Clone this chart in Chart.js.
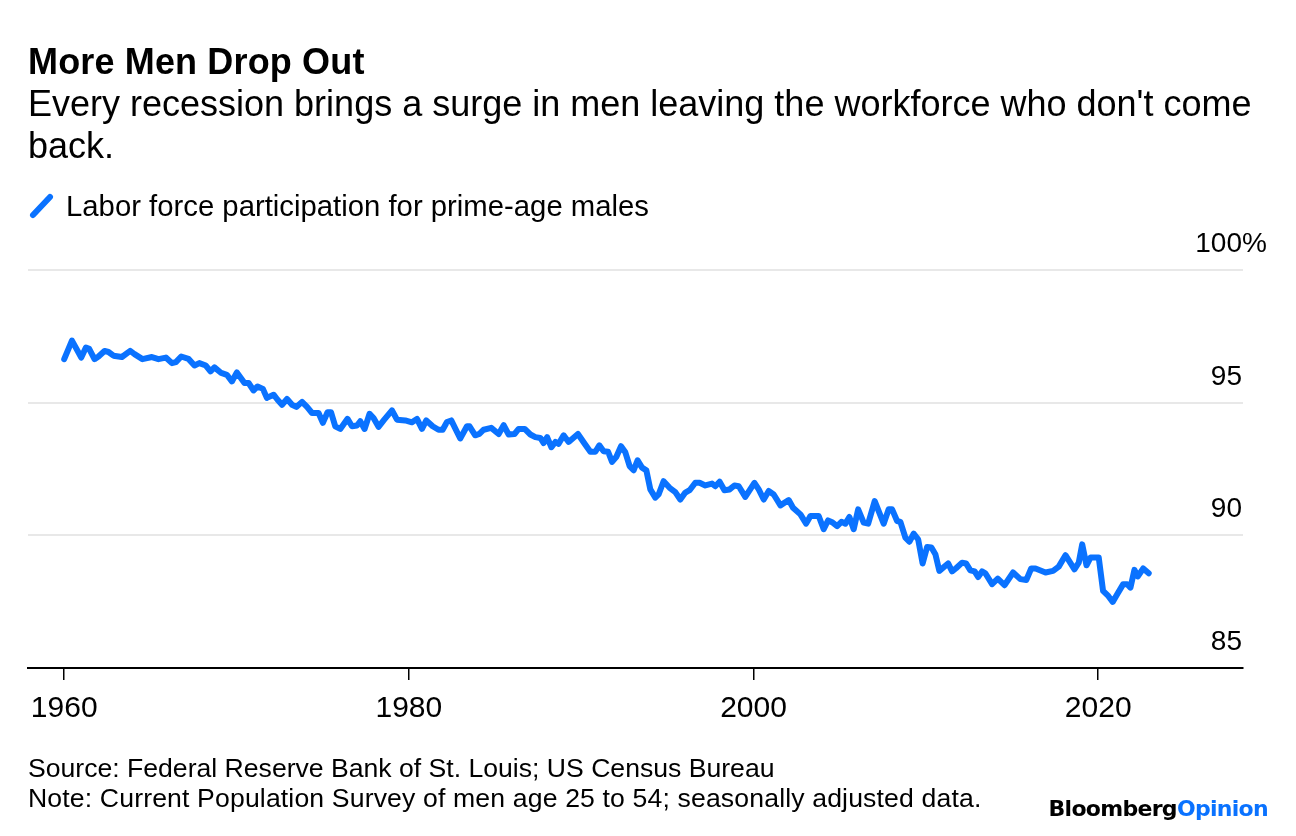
<!DOCTYPE html>
<html><head><meta charset="utf-8">
<script src="https://cdn.jsdelivr.net/npm/chart.js@4.4.0/dist/chart.umd.min.js"></script>
<style>
html,body{margin:0;padding:0;background:#fff;}
body{width:1296px;height:836px;position:relative;overflow:hidden;font-family:"Liberation Sans",Arial,Helvetica,sans-serif;color:#000;}
#c{position:absolute;left:0;top:0;}
.t{position:absolute;white-space:nowrap;}
</style></head><body>
<canvas id="c" width="1296" height="836"></canvas>
<div class="t" style="left:28px;top:44px;font-size:36px;line-height:36px;font-weight:bold;letter-spacing:0.15px;">More Men Drop Out</div>
<div class="t" style="left:28px;top:83px;font-size:36px;line-height:42px;">Every recession brings a surge in men leaving the workforce who don't come<br>back.</div>
<svg class="t" style="left:0;top:0;" width="70" height="240"><line x1="33" y1="215" x2="50" y2="197" stroke="#0a72ff" stroke-width="6" stroke-linecap="round"/></svg>
<div class="t" style="left:66px;top:191px;font-size:29.3px;line-height:29.3px;">Labor force participation for prime-age males</div>
<div class="t" style="left:28px;top:755px;font-size:26.6px;line-height:26.6px;">Source: Federal Reserve Bank of St. Louis; US Census Bureau</div>
<div class="t" style="left:28px;top:785px;font-size:26.6px;line-height:26.6px;letter-spacing:0.15px;">Note: Current Population Survey of men age 25 to 54; seasonally adjusted data.</div>
<div class="t" style="right:28px;top:798px;font-size:22px;line-height:22px;font-family:'DejaVu Sans',sans-serif;font-weight:bold;letter-spacing:-0.7px;"><span style="color:#000">Bloomberg</span><span style="color:#0a72ff">Opinion</span></div>
<script>
// Data (year, percent)
const years = [
 1960.00,1960.45,1960.99,1961.26,1961.45,1961.76,1961.99,1962.34,1962.57,1962.86,
 1963.35,1963.83,1964.08,1964.54,1965.09,1965.47,1965.90,1966.25,1966.48,1966.79,
 1967.21,1967.56,1967.84,1968.22,1968.49,1968.72,1969.11,1969.44,1969.73,1970.02,
 1970.46,1970.70,1970.99,1971.22,1971.53,1971.76,1972.15,1972.38,1972.64,1972.93,
 1973.22,1973.47,1973.80,1974.09,1974.38,1974.76,1975.01,1975.28,1975.48,1975.73,
 1976.02,1976.44,1976.70,1976.99,1977.18,1977.43,1977.72,1977.95,1978.24,1978.57,
 1979.02,1979.31,1979.79,1980.18,1980.47,1980.76,1981.01,1981.38,1981.72,1981.96,
 1982.21,1982.46,1982.98,1983.37,1983.52,1983.85,1984.09,1984.34,1984.78,1985.21,
 1985.50,1985.79,1986.13,1986.37,1986.72,1987.05,1987.34,1987.63,1987.82,1988.02,
 1988.27,1988.50,1988.69,1988.98,1989.27,1989.81,1990.20,1990.53,1990.82,1991.05,
 1991.30,1991.56,1991.79,1992.04,1992.31,1992.56,1992.81,1993.04,1993.27,1993.53,
 1993.78,1994.01,1994.30,1994.49,1994.78,1995.13,1995.46,1995.75,1996.04,1996.29,
 1996.62,1996.87,1997.20,1997.59,1997.78,1998.03,1998.31,1998.61,1998.89,1999.14,
 1999.52,2000.05,2000.30,2000.59,2000.88,2001.17,2001.56,2002.04,2002.29,2002.72,
 2003.05,2003.30,2003.78,2004.07,2004.32,2004.59,2004.85,2005.10,2005.33,2005.56,
 2005.81,2006.07,2006.39,2006.65,2007.03,2007.55,2007.84,2008.04,2008.33,2008.52,
 2008.81,2009.04,2009.29,2009.55,2009.81,2010.07,2010.32,2010.55,2010.78,2011.29,
 2011.52,2011.75,2012.10,2012.33,2012.58,2012.83,2013.03,2013.26,2013.45,2013.84,
 2014.17,2014.56,2015.06,2015.48,2015.83,2016.11,2016.36,2016.94,2017.38,2017.71,
 2018.10,2018.62,2018.87,2019.07,2019.32,2019.55,2020.03,2020.28,2020.55,2020.84,
 2021.10,2021.45,2021.68,2021.87,2022.10,2022.29,2022.61,2022.93
];
const values = [
 96.64,97.34,96.70,97.08,97.03,96.64,96.74,96.95,96.91,96.77,
 96.72,96.95,96.83,96.64,96.72,96.64,96.70,96.49,96.53,96.74,
 96.65,96.40,96.49,96.40,96.18,96.33,96.12,96.05,95.80,96.14,
 95.74,95.74,95.46,95.61,95.52,95.18,95.30,95.11,94.92,95.14,
 94.92,94.84,95.03,94.84,94.61,94.61,94.24,94.64,94.64,94.11,
 94.01,94.39,94.11,94.14,94.30,94.01,94.58,94.42,94.09,94.36,
 94.71,94.36,94.33,94.26,94.39,94.01,94.33,94.11,93.98,93.98,
 94.27,94.33,93.65,94.11,94.11,93.77,93.82,93.98,94.05,93.82,
 94.15,93.80,93.82,94.01,94.01,93.80,93.70,93.67,93.48,93.70,
 93.32,93.52,93.45,93.77,93.52,93.82,93.45,93.15,93.15,93.39,
 93.17,93.15,92.77,92.96,93.36,93.13,92.61,92.45,92.83,92.55,
 92.45,91.73,91.42,91.54,92.04,91.79,91.63,91.35,91.61,91.70,
 91.98,91.98,91.88,91.95,91.85,92.02,91.70,91.73,91.88,91.85,
 91.45,91.98,91.73,91.35,91.67,91.54,91.13,91.33,91.04,90.79,
 90.44,90.73,90.73,90.23,90.56,90.48,90.35,90.51,90.44,90.69,
 90.23,90.98,90.48,90.44,91.29,90.44,90.98,90.98,90.54,90.51,
 89.91,89.76,90.06,89.85,88.94,89.56,89.54,89.29,88.66,88.94,
 88.64,88.76,88.97,88.94,88.68,88.64,88.43,88.64,88.57,88.16,
 88.37,88.12,88.60,88.35,88.32,88.75,88.75,88.60,88.66,88.82,
 89.25,88.72,88.97,89.66,88.87,89.16,89.16,87.91,87.74,87.49,
 87.78,88.16,88.16,88.03,88.70,88.45,88.75,88.57
];
const xTicks = [1960, 1980, 2000, 2020];
const yTicks = [85, 90, 95, 100];
const xMin = 1957.9, xMax = 2028.4;
const yMin = 85, yMax = 100;
const LINE = '#0a72ff';
const FONT = '"Liberation Sans", Arial, sans-serif';

const labelPlugin = {
  id: 'tickLabels',
  afterDraw(chart) {
    const {ctx, scales: {x, y}, chartArea} = chart;
    ctx.save();
    ctx.fillStyle = '#000';
    ctx.textBaseline = 'alphabetic';
    ctx.font = '30px ' + FONT;
    ctx.textAlign = 'center';
    xTicks.forEach(v => ctx.fillText(String(v), x.getPixelForValue(v), 717));
    ctx.font = '28px ' + FONT;
    const right = chartArea.right - 1;
    yTicks.forEach(v => {
      const py = y.getPixelForValue(v) - 18;
      ctx.textAlign = 'right';
      ctx.fillText(String(v), right, py);
      if (v === 100) { ctx.textAlign = 'left'; ctx.fillText('%', right, py); }
    });
    ctx.restore();
  }
};

new Chart(document.getElementById('c'), {
  type: 'line',
  data: { datasets: [{
    data: years.map((yr, i) => ({x: yr, y: values[i]})),
    borderColor: LINE, borderWidth: 6, pointRadius: 0, tension: 0,
    borderJoinStyle: 'round', borderCapStyle: 'round', fill: false
  }]},
  options: {
    responsive: false, animation: false, events: [],
    layout: { padding: { left: 28, top: 270, right: 0, bottom: 0 } },
    plugins: { legend: {display: false}, tooltip: {enabled: false}, title: {display: false} },
    scales: {
      x: {
        type: 'linear', min: xMin, max: xMax,
        afterBuildTicks: s => { s.ticks = xTicks.map(v => ({value: v})); },
        ticks: { display: false },
        grid: { drawOnChartArea: false, drawTicks: true, tickLength: 12, color: '#000', lineWidth: 1.5 },
        border: { display: true, color: '#000', width: 2 },
        afterFit: s => { s.height = 836 - 668; }
      },
      y: {
        position: 'right', min: yMin, max: yMax,
        afterBuildTicks: s => { s.ticks = yTicks.map(v => ({value: v})); },
        ticks: { display: false },
        grid: { color: c => (c.tick && c.tick.value === 85) ? 'rgba(0,0,0,0)' : '#e8e8e8', lineWidth: 2, drawTicks: false },
        border: { display: false },
        afterFit: s => { s.width = 1296 - 1243; }
      }
    }
  },
  plugins: [labelPlugin]
});
</script>
</body></html>
